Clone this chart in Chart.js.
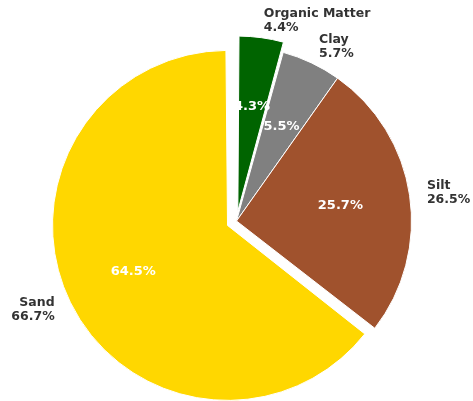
<!DOCTYPE html>
<html lang="en">
<head>
    <meta charset="UTF-8">
    <title>Soil composition</title>
    <script src="https://cdn.jsdelivr.net/npm/chart.js"></script>
    <style>
        body { margin: 0; background: #fff; }
        .box { width: 473px; height: 401px; position: relative; }
    </style>
</head>
<body>
    <div class="box">
        <canvas id="myChart"></canvas>
    </div>
<script>
    // soil parts, clockwise from 12 o'clock
    var componentes = ['Organic Matter', 'Clay', 'Silt', 'Sand'];
    var valores = [4.3, 5.5, 25.7, 64.5];        // share shown inside the slices
    var valoresRotulo = [4.4, 5.7, 26.5, 66.7];  // % written next to the names
    var cores = ['#006400', '#808080', '#A0522D', '#FFD700'];

    var RAIO = 175;
    var EXPLODE = [10, 0, 0, 10]; // px the slice is pulled out

    // chart.js moves an arc by offset/4 and also grows its radius, undo the growth
    var ajusteRaio = {
        id: 'ajusteRaio',
        afterUpdate: function (chart) {
            var meta = chart.getDatasetMeta(0);
            meta.data.forEach(function (arc) {
                var off = arc.options.offset || 0;
                if (!off) return;
                var fix = 1 - Math.sin(Math.min(Math.PI, arc.circumference));
                arc.outerRadius = RAIO - (off / 4) * fix;
            });
        }
    };

    var rotulos = {
        id: 'rotulos',
        afterDatasetsDraw: function (chart) {
            var ctx = chart.ctx;
            var meta = chart.getDatasetMeta(0);
            var total = valores.reduce(function (a, b) { return a + b; }, 0);
            ctx.save();
            meta.data.forEach(function (arc, i) {
                var meio = (arc.startAngle + arc.endAngle) / 2;
                var c = Math.cos(meio), s = Math.sin(meio);
                var t = (arc.options.offset || 0) / 4;
                var cx = arc.x + c * t;
                var cy = arc.y + s * t;

                // percentage inside
                ctx.fillStyle = '#ffffff';
                ctx.font = 'bold 13px "DejaVu Sans"';
                ctx.textAlign = 'center';
                ctx.textBaseline = 'middle';
                var pct = (valores[i] / total * 100).toFixed(1) + '%';
                ctx.fillText(pct, cx + c * RAIO * 0.6, cy + s * RAIO * 0.6);

                // name + % outside
                var lx = cx + c * RAIO * 1.1;
                var ly = cy + s * RAIO * 1.1;
                ctx.fillStyle = '#333333';
                ctx.font = 'bold 12.5px "DejaVu Sans"';
                ctx.textAlign = c >= 0 ? 'left' : 'right';
                ctx.fillText(componentes[i], lx, ly - 7);
                ctx.fillText(valoresRotulo[i].toFixed(1) + '%', lx, ly + 7);
            });
            ctx.restore();
        }
    };

    var data = {
        labels: componentes,
        datasets: [{
            data: valores,
            backgroundColor: cores,
            borderColor: '#ffffff',
            borderWidth: 1,
            offset: EXPLODE.map(function (e) { return e * 4; }),
            hoverOffset: 0
        }]
    };

    var config = {
        type: 'pie',
        data: data,
        options: {
            responsive: true,
            maintainAspectRatio: false,
            animation: false,
            radius: RAIO,
            layout: { padding: { top: 41, bottom: 0, left: 0, right: 0 } },
            plugins: {
                legend: { display: false },
                tooltip: { enabled: false }
            }
        },
        plugins: [ajusteRaio, rotulos]
    };

    var myChart = new Chart(document.getElementById('myChart'), config);
</script>
</body>
</html>
